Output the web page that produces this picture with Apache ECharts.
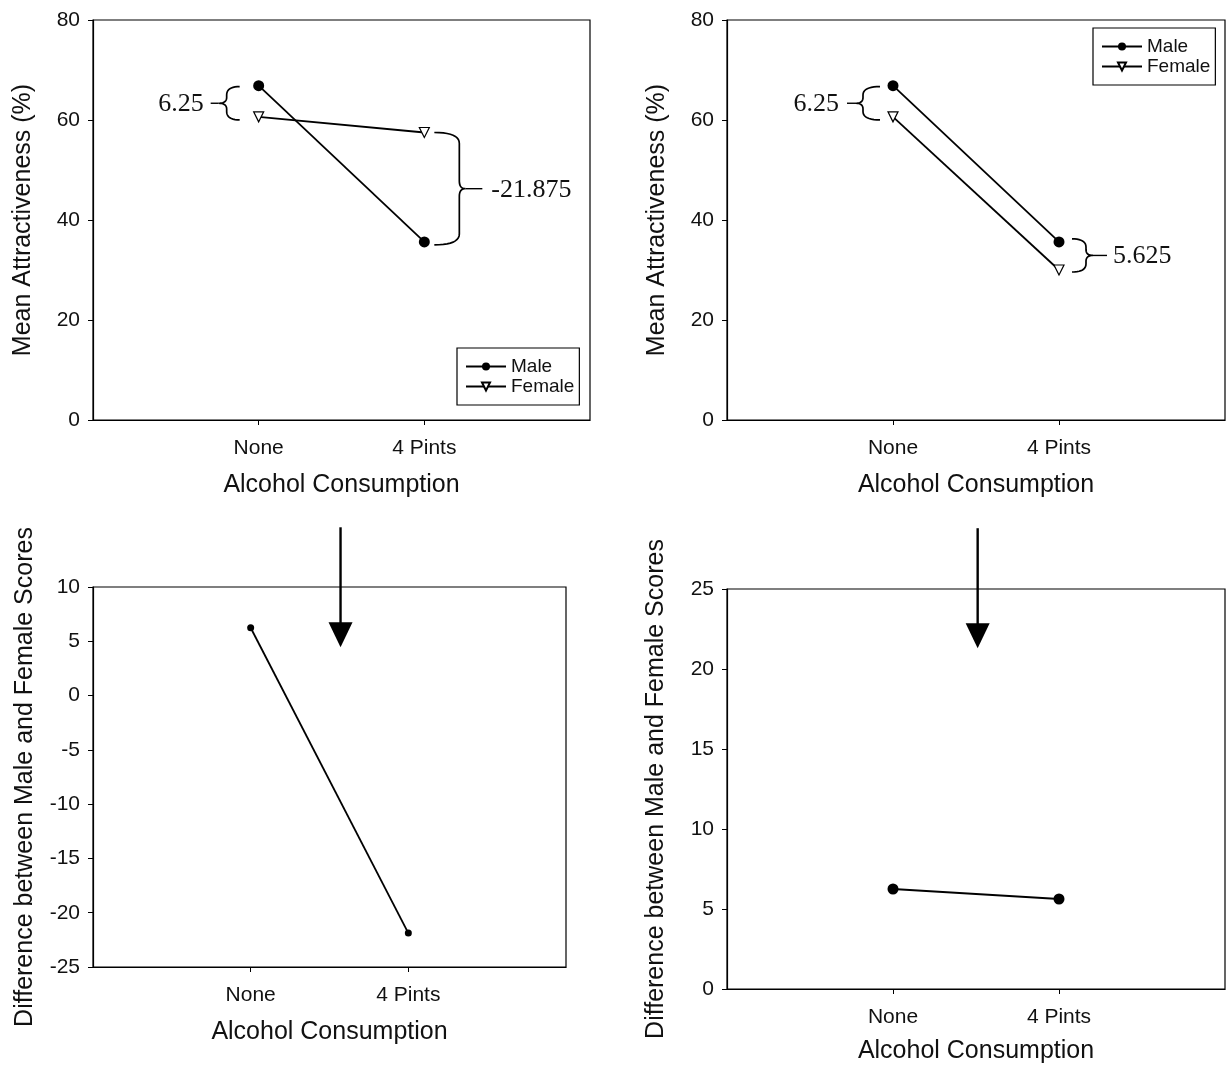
<!DOCTYPE html>
<html><head><meta charset="utf-8">
<script src="https://cdn.jsdelivr.net/npm/echarts@6/dist/echarts.min.js"></script>
<style>html,body{margin:0;padding:0;background:#fff}#c{width:1232px;height:1066px}</style>
</head><body><div id="c"></div>
<script>
// ---- data ----
const categories = ['None', '4 Pints'];
const xPos = [1, 2];
const maleA = [66.875, 35.625];
const femaleA = [60.625, 57.5];
const maleB = [66.875, 35.625];
const femaleB = [60.625, 30.0];
const diffA = [6.25, -21.875];
const diffB = [6.25, 5.625];
const yTicksTop = [0, 20, 40, 60, 80];
const yTicksDiffA = [-25, -20, -15, -10, -5, 0, 5, 10];
const yTicksDiffB = [0, 5, 10, 15, 20, 25];
const annotA = ['6.25', '-21.875'];
const annotB = ['6.25', '5.625'];
// arrows between panels: [x in axis units, y start, y tip]
const arrowA = [1.57, 15.5, 4.45];
const arrowB = [1.51, 28.8, 21.3];

const SANS = 'Liberation Sans, Arial, sans-serif';
const SERIF = 'Liberation Serif, Times New Roman, serif';
const chart = echarts.init(document.getElementById('c'), null, {renderer: 'canvas'});

const grids = [
  {left: 93, top: 20, width: 497, height: 400},
  {left: 727, top: 20, width: 498, height: 400},
  {left: 93, top: 587, width: 473, height: 380},
  {left: 727, top: 589, width: 498, height: 400}
].map(g => Object.assign({show: true, borderColor: '#000', borderWidth: 1.2, backgroundColor: 'transparent'}, g));

function xAxis(i, nameGap, labelMargin) {
  return {
    type: 'value', gridIndex: i, min: 0, max: 3, interval: 1,
    name: 'Alcohol Consumption', nameLocation: 'middle', nameGap: nameGap,
    nameTextStyle: {fontFamily: SANS, fontSize: 25, color: '#111'},
    axisLine: {show: true, onZero: false, lineStyle: {color: '#000', width: 1.2}},
    axisTick: {show: true, customValues: xPos, length: 5, lineStyle: {color: '#000'}},
    axisLabel: {customValues: xPos, formatter: v => categories[xPos.indexOf(v)] || '', fontFamily: SANS, fontSize: 21, color: '#111', margin: labelMargin},
    splitLine: {show: false}
  };
}
function yAxis(i, ticks, name, nameGap) {
  return {
    type: 'value', gridIndex: i, min: ticks[0], max: ticks[ticks.length - 1], interval: ticks[1] - ticks[0],
    name: name, nameLocation: 'middle', nameRotate: 90, nameGap: nameGap,
    nameTextStyle: {fontFamily: SANS, fontSize: 25, color: '#111'},
    axisLine: {show: true, onZero: false, lineStyle: {color: '#000', width: 1.2}},
    axisTick: {show: true, length: 5, lineStyle: {color: '#000'}},
    axisLabel: {fontFamily: SANS, fontSize: 21, color: '#111', margin: 13},
    splitLine: {show: false}
  };
}
const pts = arr => xPos.map((x, i) => [x, arr[i]]);
const maleStyle = {symbol: 'circle', symbolSize: 11, itemStyle: {color: '#000'}, lineStyle: {color: '#000', width: 1.8}};
const femaleStyle = {symbol: 'triangle', symbolSize: 10, symbolRotate: 180, itemStyle: {color: '#fff', borderColor: '#000', borderWidth: 1.2}, lineStyle: {color: '#000', width: 1.8}};

const legendBase = {
  orient: 'vertical', data: ['Male', 'Female'], borderColor: '#000', borderWidth: 1.2,
  padding: [9, 5, 9, 8], itemGap: 1, itemWidth: 40, itemHeight: 10,
  textStyle: {fontFamily: SANS, fontSize: 19, color: '#111'}, selectedMode: false
};

chart.setOption({
  animation: false,
  backgroundColor: '#fff',
  grid: grids,
  xAxis: [xAxis(0, 53, 18), xAxis(1, 53, 18), xAxis(2, 53, 18), xAxis(3, 50, 18)],
  yAxis: [
    yAxis(0, yTicksTop, 'Mean Attractiveness (%)', 57),
    yAxis(1, yTicksTop, 'Mean Attractiveness (%)', 57),
    yAxis(2, yTicksDiffA, 'Difference between Male and Female Scores', 55),
    yAxis(3, yTicksDiffB, 'Difference between Male and Female Scores', 58)
  ],
  legend: [
    Object.assign({left: 457, top: 348}, legendBase),
    Object.assign({left: 1093, top: 28}, legendBase)
  ],
  series: [
    Object.assign({type: 'line', name: 'Male', xAxisIndex: 0, yAxisIndex: 0, data: pts(maleA)}, maleStyle),
    Object.assign({type: 'line', name: 'Female', xAxisIndex: 0, yAxisIndex: 0, data: pts(femaleA)}, femaleStyle),
    Object.assign({type: 'line', name: 'Male', xAxisIndex: 1, yAxisIndex: 1, data: pts(maleB)}, maleStyle),
    Object.assign({type: 'line', name: 'Female', xAxisIndex: 1, yAxisIndex: 1, data: pts(femaleB)}, femaleStyle),
    {type: 'line', name: 'DiffA', xAxisIndex: 2, yAxisIndex: 2, data: pts(diffA), symbol: 'circle', symbolSize: 7,
      itemStyle: {color: '#000'}, lineStyle: {color: '#000', width: 1.8}},
    {type: 'line', name: 'DiffB', xAxisIndex: 3, yAxisIndex: 3, data: pts(diffB), symbol: 'circle', symbolSize: 11,
      itemStyle: {color: '#000'}, lineStyle: {color: '#000', width: 1.8}}
  ]
});

// ---- annotations (braces, labels, arrows) positioned via axis scales ----
function px(grid, x, y) { return chart.convertToPixel({xAxisIndex: grid, yAxisIndex: grid}, [x, y]); }
const g = [];
function quad(out, p0, c, p1) {
  for (let t = 0.1; t <= 1.0001; t += 0.1) {
    const a = (1 - t) * (1 - t), b = 2 * (1 - t) * t, d = t * t;
    out.push([a * p0[0] + b * c[0] + d * p1[0], a * p0[1] + b * c[1] + d * p1[1]]);
  }
}
// s = -1: '{' with tip to the left, s = +1: '}' with tip to the right
function brace(xArm, xSpine, y1, y2, s, label, tip, dash, gap) {
  const ym = (y1 + y2) / 2, r = Math.min(11, (y2 - y1) / 4), xt = xSpine + s * tip;
  const p = [[xArm, y1]];
  quad(p, [xArm, y1], [xSpine, y1], [xSpine, y1 + r]);
  p.push([xSpine, ym - r * 0.7]);
  quad(p, [xSpine, ym - r * 0.7], [xSpine, ym], [xt, ym]);
  quad(p, [xt, ym], [xSpine, ym], [xSpine, ym + r * 0.7]);
  p.push([xSpine, y2 - r]);
  quad(p, [xSpine, y2 - r], [xSpine, y2], [xArm, y2]);
  g.push({type: 'polyline', shape: {points: p}, style: {fill: null, stroke: '#000', lineWidth: 1.7}});
  g.push({type: 'line', shape: {x1: xt, y1: ym, x2: xt + s * dash, y2: ym}, style: {stroke: '#000', lineWidth: 1.4}});
  g.push({type: 'text', x: xt + s * (dash + gap), y: ym + 1, style: {text: label, fontFamily: SERIF, fontSize: 26, fill: '#111',
    align: s < 0 ? 'right' : 'left', verticalAlign: 'middle'}});
}
// top-left
{
  const m0 = px(0, xPos[0], maleA[0]), f0 = px(0, xPos[0], femaleA[0]);
  const m1 = px(0, xPos[1], maleA[1]), f1 = px(0, xPos[1], femaleA[1]);
  brace(m0[0] - 19, m0[0] - 32, m0[1] + 1, f0[1] + 3, -1, annotA[0], 8, 8, 7);
  brace(f1[0] + 10, f1[0] + 35, f1[1], m1[1] + 3, 1, annotA[1], 6, 17, 9);
}
// top-right
{
  const m0 = px(1, xPos[0], maleB[0]), f0 = px(1, xPos[0], femaleB[0]);
  const m1 = px(1, xPos[1], maleB[1]), f1 = px(1, xPos[1], femaleB[1]);
  brace(m0[0] - 13, m0[0] - 30, m0[1] + 1, f0[1] + 3, -1, annotB[0], 7, 9, 8);
  brace(m1[0] + 13, m1[0] + 27, m1[1] - 3, f1[1] + 2, 1, annotB[1], 7, 14, 6);
}
function arrow(grid, a) {
  const p0 = px(grid, a[0], a[1]), p1 = px(grid, a[0], a[2]);
  const x = p0[0], head = 25, hw = 12;
  g.push({type: 'line', shape: {x1: x, y1: p0[1], x2: x, y2: p1[1] - head + 2}, style: {stroke: '#000', lineWidth: 2.4}});
  g.push({type: 'polygon', shape: {points: [[x - hw, p1[1] - head], [x + hw, p1[1] - head], [x, p1[1]]]}, style: {fill: '#000'}});
}
arrow(2, arrowA);
arrow(3, arrowB);
chart.setOption({graphic: g});
</script>
</body></html>
